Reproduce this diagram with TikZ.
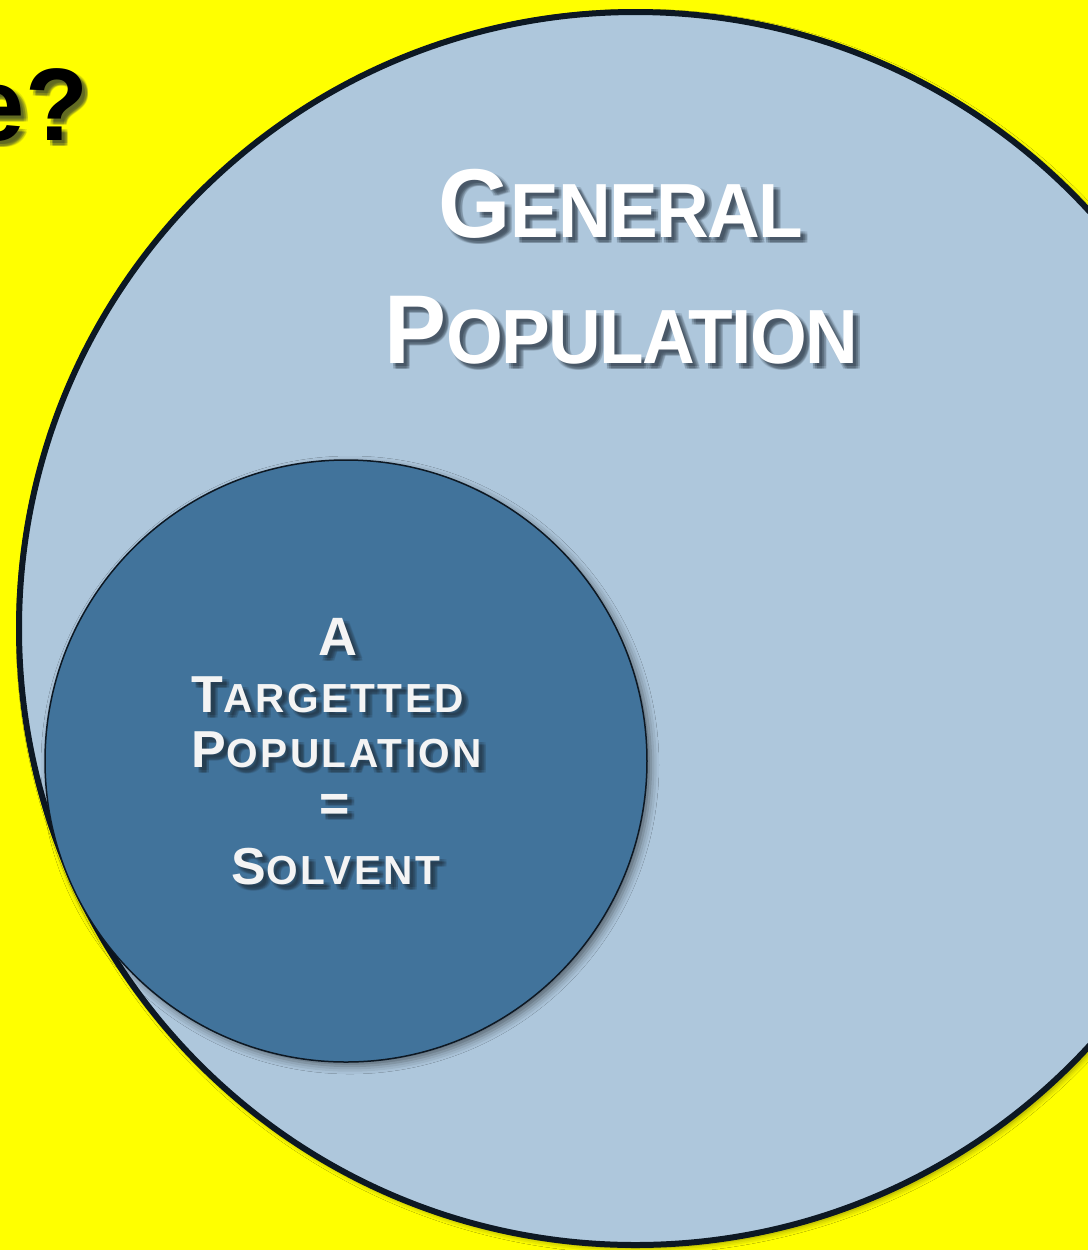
\documentclass[tikz,border=0pt]{standalone}
\usepackage{fontspec}
\setmainfont{Liberation Sans}
\newfontfamily\outerfont[FakeStretch=0.95,LetterSpace=-2]{Liberation Sans}
\newfontfamily\innerfont[LetterSpace=6]{Liberation Sans}
\usetikzlibrary{shadows.blur,calc}

\definecolor{canvas}{HTML}{FFFF00}
\definecolor{paleblue}{HTML}{AEC7DC}
\definecolor{deepblue}{HTML}{41739B}
\definecolor{rim}{HTML}{0D1823}
\definecolor{shade}{HTML}{1E2A36}
\definecolor{offwhite}{HTML}{F4F4F4}

% a capital followed by small capitals, both sizes given
\newcommand\capsmall[4]{{\fontsize{#1}{#1}\selectfont #3}{\fontsize{#2}{#2}\selectfont #4}}

% text with a soft drop shadow: name, position, style, text
\newcommand\shadowlabel[4]{%
  \foreach \sx in {1.6,2.5,3.4}{%
    \foreach \sy in {1.6,2.5,3.4}{%
      \node[#3, text=shade, text opacity=0.12] at ($(#2)+(\sx pt,-\sy pt)$) {#4};
    }%
  }%
  \node[#3] (#1) at (#2) {#4};%
}

\tikzset{
  label/.style={anchor=base, inner sep=0pt, outer sep=0pt, font=\bfseries},
  outerlabel/.style={label, text=white, font=\outerfont\bfseries},
  innerlabel/.style={label, text=offwhite, font=\innerfont\bfseries},
  bigdisc/.style={circle, inner sep=0pt, minimum size=616.5pt, fill=paleblue,
    draw=rim, line width=3pt,
    blur shadow={shadow xshift=1.5pt, shadow yshift=-1.5pt, shadow blur radius=3pt, shadow opacity=45}},
  smalldisc/.style={circle, inner sep=0pt, minimum size=301pt, fill=deepblue,
    draw=rim, line width=0.75pt,
    blur shadow={shadow xshift=2pt, shadow yshift=-2pt, shadow blur radius=4pt, shadow opacity=50}},
}

\begin{document}
\begin{tikzpicture}[x=0.5pt, y=-0.5pt]
  \clip (0,0) rectangle (1088,1250);
  \fill[canvas] (0,0) rectangle (1088,1250);

  % title fragment at the top left
  \shadowlabel{title}{88,140}{label, anchor=base east, text=black, font=\fontsize{51.5pt}{51.5pt}\selectfont\bfseries}{e?}

  % the two populations
  \node[bigdisc] (general) at (635.5,628.5) {};
  \node[smalldisc] (target) at (346,761) {};

  % labels of the general population
  \shadowlabel{gen1}{621,237}{outerlabel}{\capsmall{48.9pt}{38.4pt}{G}{ENERAL}}
  \shadowlabel{gen2}{621,363}{outerlabel}{\capsmall{48.9pt}{38.4pt}{P}{OPULATION}}

  % labels of the targetted population
  \shadowlabel{tgt1}{338,655}{innerlabel}{\capsmall{27pt}{20.3pt}{A}{}}
  \shadowlabel{tgt2}{328,712}{innerlabel}{\capsmall{26pt}{20.3pt}{T}{ARGETTED}}
  \shadowlabel{tgt3}{337,767}{innerlabel}{\capsmall{26pt}{20.3pt}{P}{OPULATION}}
  \shadowlabel{tgt4}{335,821}{innerlabel}{\fontsize{26pt}{26pt}\selectfont =}
  \shadowlabel{tgt5}{336,884}{innerlabel}{\capsmall{26pt}{20.3pt}{S}{OLVENT}}
\end{tikzpicture}
\end{document}
